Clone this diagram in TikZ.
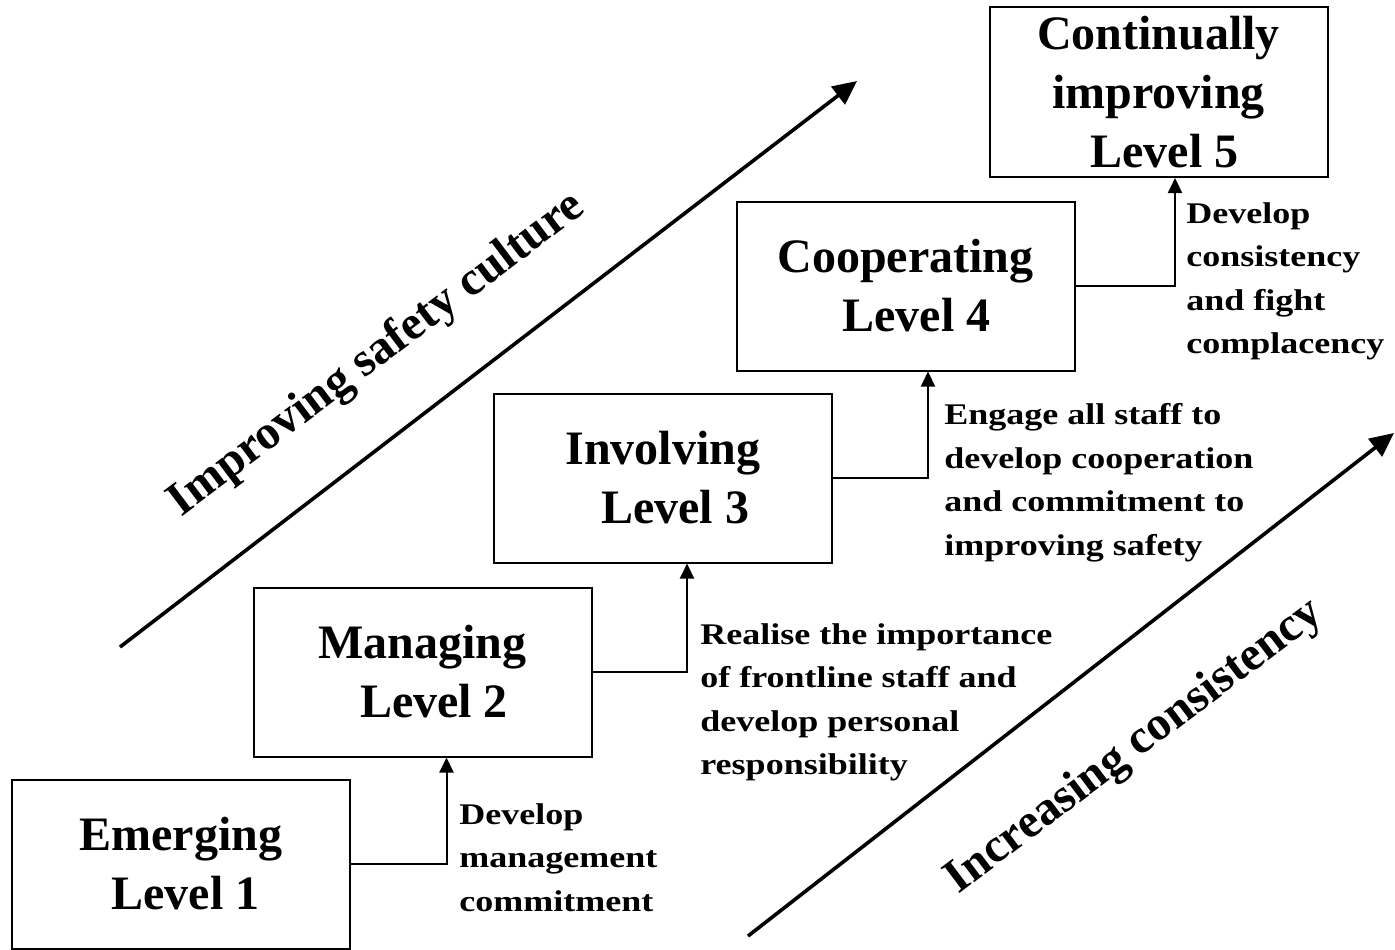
\documentclass[tikz,border=0pt]{standalone}
\usepackage{fontspec}
\setmainfont{Liberation Serif}
\newfontfamily\notefont{Liberation Serif}[FakeStretch=1.2]
\usetikzlibrary{arrows.meta}

\begin{document}
\begin{tikzpicture}[x=0.5pt,y=-0.5pt,
  levelbox/.style={draw,line width=1pt,minimum width=169pt,minimum height=84.5pt,
    align=center,inner sep=0pt,font=\bfseries\fontsize{24}{29.5}\selectfont},
  note/.style={anchor=north west,align=left,inner sep=0pt,
    font=\notefont\bfseries\fontsize{15}{21.75}\selectfont},
  step link/.style={line width=1pt,-{Triangle[length=7.5pt,width=7pt]}},
  trend/.style={line width=1.8pt,-{Triangle[length=12pt,width=11pt]}},
  trend label/.style={rotate=37,inner sep=0pt,font=\bfseries\fontsize{24}{29}\selectfont}]

\useasboundingbox (0,0) rectangle (1395,949);

% the five levels
\node[levelbox] (l1) at (181,864)    {Emerging\\ \hspace*{4.5pt}Level 1};
\node[levelbox] (l2) at (422.5,672)  {Managing\\ \hspace*{11.5pt}Level 2};
\node[levelbox] (l3) at (663,478)    {Involving\\ \hspace*{12pt}Level 3};
\node[levelbox] (l4) at (905.5,286)  {Cooperating\\ \hspace*{11pt}Level 4};
\node[levelbox,minimum height=85pt] (l5) at (1158.5,92) {Continually\\ improving\hspace*{6.5pt}\\ \hspace*{6pt}Level 5};

% steps between levels
\draw[step link] (l1.east) -| ([xshift=12pt]l2.south);
\draw[step link] (l2.east) -| ([xshift=12pt]l3.south);
\draw[step link] (l3.east) -| ([xshift=11.25pt]l4.south);
\draw[step link] (l4.east) -| ([xshift=8.25pt]l5.south);

% step descriptions
\node[note] (n1) at (459,803)  {Develop\\ management\\ commitment};
\node[note] (n2) at (700,623)  {Realise the importance\\ of frontline staff and\\ develop personal\\ responsibility};
\node[note] (n3) at (944,403)  {Engage all staff to\\ develop cooperation\\ and commitment to\\ improving safety};
\node[note] (n4) at (1186,202) {Develop\\ consistency\\ and fight\\ complacency};

% trend arrows
\coordinate (c1s) at (120,647);
\coordinate (c1e) at (857,81);
\coordinate (c2s) at (748,936);
\coordinate (c2e) at (1394,433);
\draw[trend] (c1s) -- (c1e);
\draw[trend] (c2s) -- (c2e);

\node[trend label] (t1) at (377,355)  {Improving safety culture};
\node[trend label] (t2) at (1135,747) {Increasing consistency};

\end{tikzpicture}
\end{document}
